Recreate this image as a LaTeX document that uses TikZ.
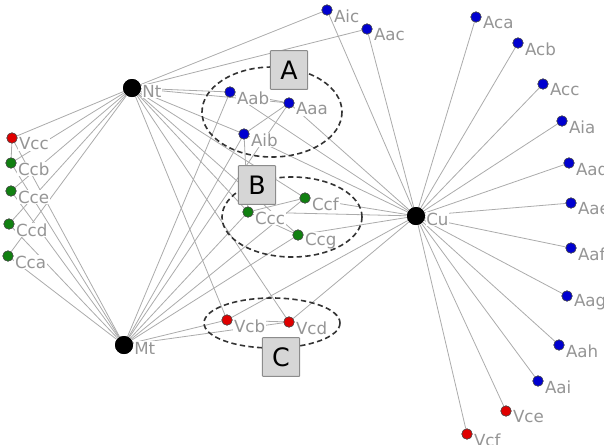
\documentclass[tikz,border=0pt]{standalone}
\usepackage{fontspec}
\setmainfont{DejaVu Sans}
\definecolor{edgec}{HTML}{ABABAB}
\definecolor{labc}{HTML}{959595}
\definecolor{nblue}{HTML}{0000D0}
\definecolor{ngreen}{HTML}{108010}
\definecolor{nred}{HTML}{E00000}
\definecolor{boxfill}{HTML}{D6D6D6}
\tikzset{
  dotbase/.style={circle,inner sep=0pt,minimum size=7.8pt,draw=black!70,line width=0.4pt},
  bdot/.style={dotbase,fill=nblue},
  gdot/.style={dotbase,fill=ngreen},
  rdot/.style={dotbase,fill=nred},
  hub/.style={circle,inner sep=0pt,minimum size=13.5pt,fill=black},
  lab/.style={text=labc,font=\fontsize{12.5}{13}\selectfont,inner sep=0.6pt,fill=white,anchor=west},
  edge/.style={draw=edgec,line width=0.6pt},
  letterbox/.style={draw=black!45,fill=boxfill,minimum width=28pt,minimum height=29pt,inner sep=0pt,font=\fontsize{19}{20}\selectfont,line width=0.7pt,rounded corners=0.5pt},
  grp/.style={draw=black!80,line width=1.2pt,dash pattern=on 4pt off 2.5pt}
}
\begin{document}
\begin{tikzpicture}[x=0.75pt,y=-0.75pt]
\useasboundingbox (0,0) rectangle (604,444);
\clip (0,0) rectangle (604,444);
% hubs
\node[hub] (Nt) at (132,88) {};
\node[hub] (Mt) at (124,345) {};
\node[hub] (Cu) at (416,216) {};
% left
\node[rdot] (Vcc) at (12,138) {};
\node[gdot] (Ccb) at (11,163) {};
\node[gdot] (Cce) at (11,191) {};
\node[gdot] (Ccd) at (9,224) {};
\node[gdot] (Cca) at (8,256) {};
% A group
\node[bdot] (Aic) at (327,10) {};
\node[bdot] (Aac) at (367,29) {};
\node[bdot] (Aab) at (230,92) {};
\node[bdot] (Aaa) at (289,103) {};
\node[bdot] (Aib) at (244,134) {};
% B group
\node[gdot] (Ccf) at (305,198) {};
\node[gdot] (Ccc) at (248,212) {};
\node[gdot] (Ccg) at (298,235) {};
% C group
\node[rdot] (Vcb) at (227,320) {};
\node[rdot] (Vcd) at (289,322) {};
% right
\node[bdot] (Aca) at (476,17) {};
\node[bdot] (Acb) at (518,43) {};
\node[bdot] (Acc) at (543,84) {};
\node[bdot] (Aia) at (562,121) {};
\node[bdot] (Aad) at (569,163) {};
\node[bdot] (Aae) at (571,203) {};
\node[bdot] (Aaf) at (571,248) {};
\node[bdot] (Aag) at (567,296) {};
\node[bdot] (Aah) at (559,345) {};
\node[bdot] (Aai) at (538,381) {};
\node[rdot] (Vce) at (506,411) {};
\node[rdot] (Vcf) at (467,434) {};
% edges
\foreach \t in {Vcc,Ccb,Cce,Ccd,Cca,Aic,Aac,Aab,Aaa,Aib,Ccc,Ccf,Ccg,Vcb,Vcd}
  \draw[edge] (Nt) -- (\t);
\foreach \t in {Vcc,Ccb,Cce,Ccd,Cca,Aab,Aaa,Aib,Ccc,Ccf,Ccg,Vcb,Vcd}
  \draw[edge] (Mt) -- (\t);
\foreach \t in {Aic,Aac,Aab,Aaa,Aib,Ccc,Ccf,Ccg,Vcb,Vcd,Aca,Acb,Acc,Aia,Aad,Aae,Aaf,Aag,Aah,Aai,Vce,Vcf}
  \draw[edge] (Cu) -- (\t);
\draw[edge] (Aab) -- (Aaa);
\draw[edge] (Aaa) -- (Aib);
\draw[edge] (Aib) -- (Ccc);
\draw[edge] (Ccc) -- (Ccf);
\draw[edge] (Ccc) -- (Ccg);
\draw[edge] (Vcb) -- (Vcd);
\draw[edge] (Vcc) -- (Ccb);
\draw[edge] (Ccb) -- ([shift={(30,30)}]Ccb);
\draw[edge] ([shift={(18,0)}]Ccb) -- ([shift={(10,28)}]Ccb);
\draw[edge] ([shift={(12,4)}]Cce) -- ([shift={(30,30)}]Cce);
\draw[edge] ([shift={(30,4)}]Cce) -- ([shift={(14,30)}]Cce);
\draw[edge] ([shift={(8,4)}]Ccd) -- ([shift={(26,30)}]Ccd);
% labels
\foreach \n in {Vcc,Ccb,Cce,Ccd,Cca,Aic,Aac,Aab,Aaa,Aib,Ccf,Ccc,Ccg,Vcb,Vcd,Aca,Acb,Acc,Aia,Aad,Aae,Aaf,Aag,Aah,Aai,Vce,Vcf}
  \node[lab] (L\n) at ([shift={(0.5,6)}]\n.east) {\n};
\node[lab] (LNt) at ([shift={(0,3)}]Nt.east) {Nt};
\node[lab] (LMt) at ([shift={(0,3)}]Mt.east) {Mt};
\node[lab] (LCu) at ([shift={(0,3)}]Cu.east) {Cu};
% redraw dots on top
\foreach \n/\s in {Vcc/rdot,Ccb/gdot,Cce/gdot,Ccd/gdot,Cca/gdot,Aic/bdot,Aac/bdot,Aab/bdot,Aaa/bdot,Aib/bdot,Ccf/gdot,Ccc/gdot,Ccg/gdot,Vcb/rdot,Vcd/rdot,Aca/bdot,Acb/bdot,Acc/bdot,Aia/bdot,Aad/bdot,Aae/bdot,Aaf/bdot,Aag/bdot,Aah/bdot,Aai/bdot,Vce/rdot,Vcf/rdot}
  \node[\s] at (\n) {};
\node[hub] at (Nt) {};
\node[hub] at (Mt) {};
\node[hub] at (Cu) {};
% group ellipses
\draw[grp] (272,112) ellipse [x radius=70, y radius=45];
\draw[grp] (292,217) ellipse [x radius=70, y radius=40];
\draw[grp] (272,323) ellipse [x radius=68, y radius=25];
% letter boxes
\node[letterbox] (BA) at (289,70) {A};
\node[letterbox] (BB) at (257,185) {B};
\node[letterbox] (BC) at (281,357) {C};
\end{tikzpicture}
\end{document}
